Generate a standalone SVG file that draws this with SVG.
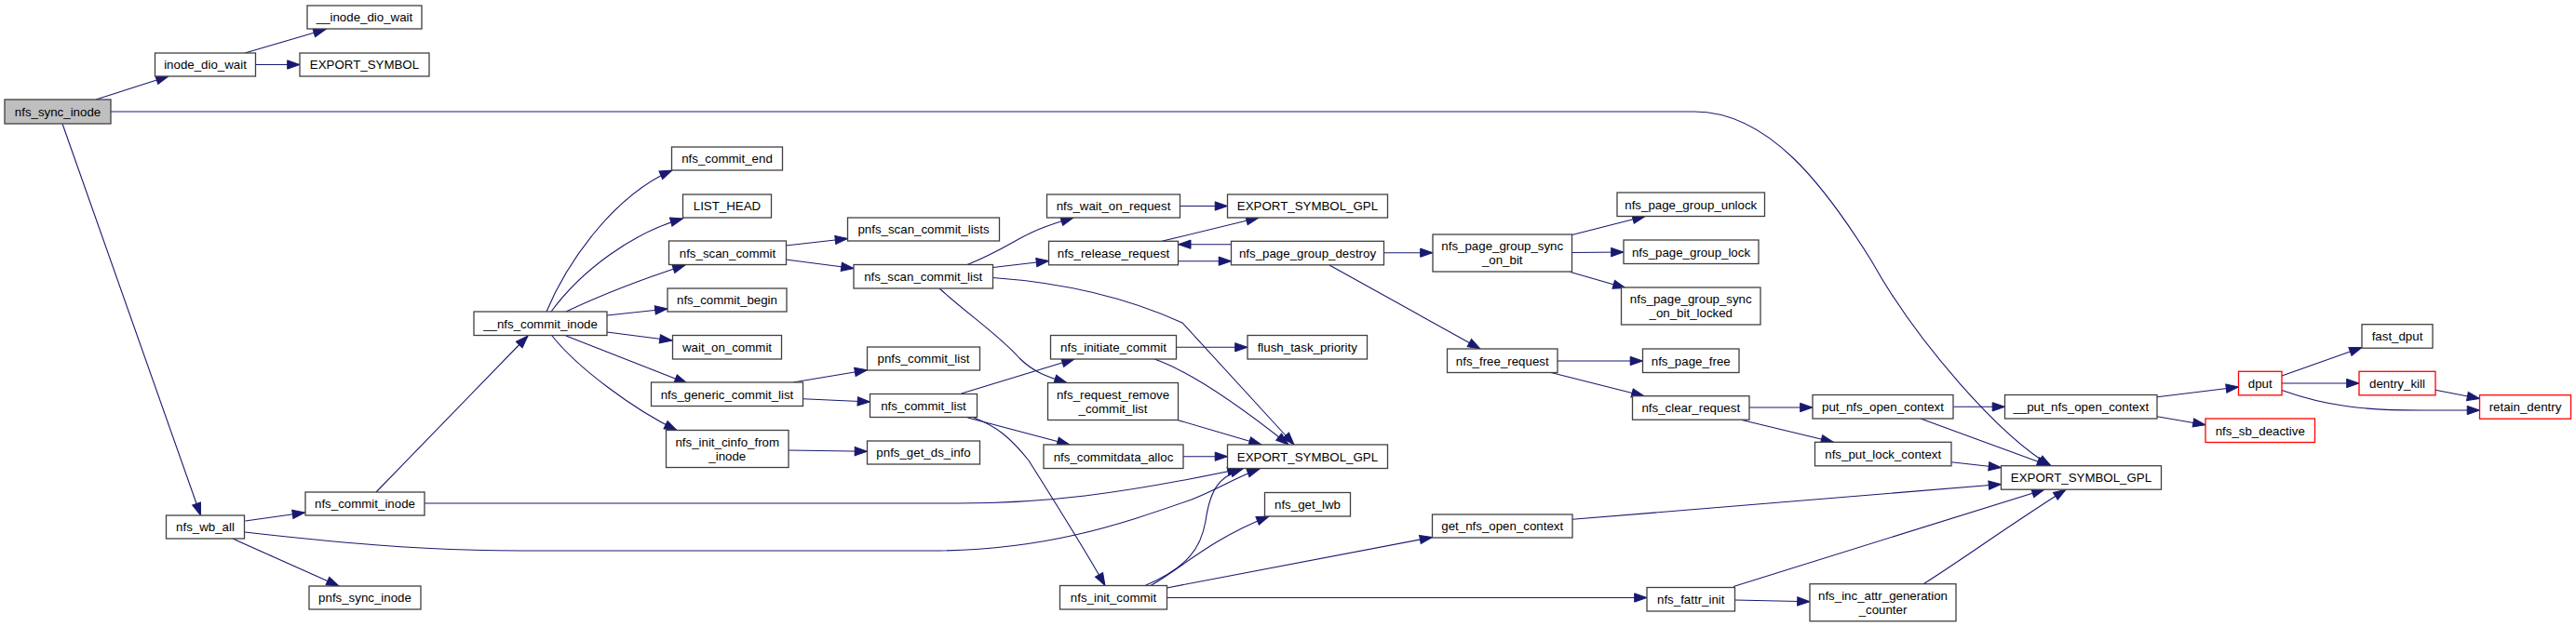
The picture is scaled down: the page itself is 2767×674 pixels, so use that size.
<svg xmlns="http://www.w3.org/2000/svg" width="2767" height="674" viewBox="0 0 2767 674">
<style>
.node rect{fill:#ffffff;stroke:#404040;stroke-width:1.3}
.node.root rect{fill:#bfbfbf}
.node.red rect{stroke:#ff0000}
.node text{font-family:"Liberation Sans",Arial,sans-serif;font-size:13.3px;text-anchor:middle;fill:#000000}
#edges path{fill:none;stroke:#191970;stroke-width:1.1;marker-end:url(#arr)}
</style>
<defs>
<marker id="arr" markerUnits="userSpaceOnUse" markerWidth="15" markerHeight="11" viewBox="0 0 15 11" refX="13.8" refY="5.15" orient="auto" overflow="visible">
<path d="M0.5,0.5 L13.8,5.15 L0.5,9.8 z" fill="#191970" stroke="#191970" stroke-width="1"/>
</marker>
</defs>
<rect x="0" y="0" width="2767" height="674" fill="#ffffff"/>
<g id="edges">
<path d="M103,107 L181,82"/>
<path d="M263,57 L350,31.5"/>
<path d="M274.5,69.5 L322,69.5"/>
<path d="M67,133 L215.5,554"/>
<path d="M119,120 L1820,120 C1900,120 1960,200 2010,280 C2060,370 2150,470 2203,500.7"/>
<path d="M263.4,560 L327.5,551"/>
<path d="M263,572 C350,582 450,592 560,592 L1000,592 C1120,592 1200,565 1280,537 C1310,525 1330,512 1353,504"/>
<path d="M250,579 L364,630"/>
<path d="M404,529 L567,361"/>
<path d="M456,541 L1030,541 C1120,541 1200,532 1332,504"/>
<path d="M587,335 C610,280 660,210 722,183"/>
<path d="M592,335 C625,290 680,250 733.5,235"/>
<path d="M608,335 C650,315 690,300 736,285"/>
<path d="M652,339 L717,332"/>
<path d="M652,357 L722,366"/>
<path d="M608,361 L738,412"/>
<path d="M593,361 C620,395 680,440 727,462.5"/>
<path d="M844,264 L910.5,256.5"/>
<path d="M844,279 L917,288.5"/>
<path d="M1039,284.5 C1075,270 1090,258 1108,250 C1125,242 1140,238 1153,234"/>
<path d="M1066.5,287.5 L1126.5,280.5"/>
<path d="M1009,310 C1040,338 1075,362 1095,385 C1110,400 1125,405 1146,411.5"/>
<path d="M1066.5,298.5 C1130,303 1200,315 1270,347 L1390,478"/>
<path d="M1267.5,221.5 L1318.5,221.5"/>
<path d="M1248,259.3 L1352,234"/>
<path d="M1265.7,280.7 L1322.5,280.7"/>
<path d="M1322.5,262.7 L1265.7,262.7"/>
<path d="M1486,271.7 L1539,271.7"/>
<path d="M1428,285 L1590,375"/>
<path d="M1688.5,252.5 L1767,232.5"/>
<path d="M1688.5,271.5 L1744,271"/>
<path d="M1687,292.5 L1746,309.5"/>
<path d="M1673,388 L1764.5,388"/>
<path d="M1666,400.5 L1766,425.7"/>
<path d="M1879,438 L1947,438"/>
<path d="M1871,451.5 L1969.5,475.3"/>
<path d="M2098.3,437.3 L2153.5,437.3"/>
<path d="M2063,450 L2201.5,500.7"/>
<path d="M2096,496.7 L2149.5,502.7"/>
<path d="M2317,426.7 L2404.5,416"/>
<path d="M2317,447.7 L2369,456.7"/>
<path d="M2451,404 L2537,373.5"/>
<path d="M2451,412 L2534,412"/>
<path d="M2451,419.5 C2500,437 2540,441 2600,441 L2663.5,441"/>
<path d="M2616,419.3 L2663.5,428.5"/>
<path d="M852,411 L931.5,397.7"/>
<path d="M862.6,428.7 L934.5,432"/>
<path d="M847,484 L931.5,485.3"/>
<path d="M1032.7,423 L1154,386"/>
<path d="M1039.5,449 L1149,478"/>
<path d="M1046,449 C1070,458 1085,470 1105,495 C1130,535 1165,590 1187,629.5"/>
<path d="M1263.3,373.3 L1340,373.3"/>
<path d="M1240,386 C1280,400 1330,435 1384,478"/>
<path d="M1265.5,451.7 L1355,478"/>
<path d="M1270.7,490.7 L1318.5,490.7"/>
<path d="M1230,629.5 C1275,610 1290,590 1295,560 C1300,525 1310,512 1335,504"/>
<path d="M1236,629.5 C1270,610 1300,580 1363,555"/>
<path d="M1253.3,632 L1538.5,577.5"/>
<path d="M1253.3,642.5 L1769,642.5"/>
<path d="M1689,558.3 L2149.5,520.5"/>
<path d="M1862,630.5 L2196,526.2"/>
<path d="M1863.5,645 L1944,646.7"/>
<path d="M2066,627.7 C2110,600 2150,570 2219,526.2"/>
</g>
<g id="n_nfs_sync_inode" class="node root"><rect x="5" y="107" width="114" height="26"/><text x="62" y="124.7">nfs_sync_inode</text></g>
<g id="n_inode_dio_wait" class="node"><rect x="166.5" y="57" width="108" height="25"/><text x="220.5" y="74.2">inode_dio_wait</text></g>
<g id="n___inode_dio_wait" class="node"><rect x="330" y="6" width="123" height="25"/><text x="391.5" y="23.2">__inode_dio_wait</text></g>
<g id="n_EXPORT_SYMBOL" class="node"><rect x="322" y="57" width="139" height="25"/><text x="391.5" y="74.2">EXPORT_SYMBOL</text></g>
<g id="n_nfs_wb_all" class="node"><rect x="178.5" y="554" width="84" height="25"/><text x="220.5" y="571.2">nfs_wb_all</text></g>
<g id="n_nfs_commit_inode" class="node"><rect x="328" y="529" width="128" height="25"/><text x="392" y="546.2">nfs_commit_inode</text></g>
<g id="n_pnfs_sync_inode" class="node"><rect x="332" y="630" width="120" height="25"/><text x="392" y="647.2">pnfs_sync_inode</text></g>
<g id="n___nfs_commit_inode" class="node"><rect x="509" y="335" width="143" height="25.5"/><text x="580.5" y="352.5">__nfs_commit_inode</text></g>
<g id="n_nfs_commit_end" class="node"><rect x="721.5" y="158" width="119" height="25"/><text x="781" y="175.2">nfs_commit_end</text></g>
<g id="n_LIST_HEAD" class="node"><rect x="733.5" y="209" width="95" height="25"/><text x="781" y="226.2">LIST_HEAD</text></g>
<g id="n_nfs_scan_commit" class="node"><rect x="718.5" y="259" width="126" height="25.5"/><text x="781.5" y="276.5">nfs_scan_commit</text></g>
<g id="n_nfs_commit_begin" class="node"><rect x="717" y="310" width="128" height="25"/><text x="781" y="327.2">nfs_commit_begin</text></g>
<g id="n_wait_on_commit" class="node"><rect x="722.5" y="360.5" width="117" height="25.5"/><text x="781" y="378">wait_on_commit</text></g>
<g id="n_nfs_generic_commit_list" class="node"><rect x="699.5" y="411" width="163" height="25.5"/><text x="781" y="428.5">nfs_generic_commit_list</text></g>
<g id="n_nfs_init_cinfo_from_inode" class="node"><rect x="715.5" y="462.5" width="131.5" height="40"/><text x="781.25" y="479.7">nfs_init_cinfo_from</text><text x="781.25" y="494.5">_inode</text></g>
<g id="n_pnfs_scan_commit_lists" class="node"><rect x="910.5" y="234" width="163" height="25"/><text x="992" y="251.2">pnfs_scan_commit_lists</text></g>
<g id="n_nfs_scan_commit_list" class="node"><rect x="917" y="284.5" width="149.5" height="25.5"/><text x="991.75" y="302">nfs_scan_commit_list</text></g>
<g id="n_pnfs_commit_list" class="node"><rect x="931.5" y="373" width="121" height="25"/><text x="992" y="390.2">pnfs_commit_list</text></g>
<g id="n_nfs_commit_list" class="node"><rect x="934.5" y="423.5" width="115" height="25"/><text x="992" y="440.7">nfs_commit_list</text></g>
<g id="n_pnfs_get_ds_info" class="node"><rect x="931.5" y="474" width="121" height="25"/><text x="992" y="491.2">pnfs_get_ds_info</text></g>
<g id="n_nfs_wait_on_request" class="node"><rect x="1124.5" y="209" width="143" height="25"/><text x="1196" y="226.2">nfs_wait_on_request</text></g>
<g id="n_nfs_release_request" class="node"><rect x="1126.5" y="259.3" width="139" height="25.5"/><text x="1196" y="276.7">nfs_release_request</text></g>
<g id="n_nfs_initiate_commit" class="node"><rect x="1128.5" y="360.5" width="135" height="25.5"/><text x="1196" y="378">nfs_initiate_commit</text></g>
<g id="n_nfs_request_remove_commit_list" class="node"><rect x="1125.5" y="411.5" width="140" height="40"/><text x="1195.5" y="428.5">nfs_request_remove</text><text x="1195.5" y="443.5">_commit_list</text></g>
<g id="n_nfs_commitdata_alloc" class="node"><rect x="1121" y="478" width="150" height="25.5"/><text x="1196" y="495.5">nfs_commitdata_alloc</text></g>
<g id="n_nfs_init_commit" class="node"><rect x="1138.5" y="629.5" width="115" height="25.5"/><text x="1196" y="647">nfs_init_commit</text></g>
<g id="n_EXPORT_SYMBOL_GPL_1" class="node"><rect x="1318.5" y="209" width="172" height="25"/><text x="1404.5" y="226.2">EXPORT_SYMBOL_GPL</text></g>
<g id="n_nfs_page_group_destroy" class="node"><rect x="1322.5" y="259.3" width="164" height="25.5"/><text x="1404.5" y="276.7">nfs_page_group_destroy</text></g>
<g id="n_flush_task_priority" class="node"><rect x="1340" y="360.5" width="128.5" height="25.5"/><text x="1404.25" y="378">flush_task_priority</text></g>
<g id="n_EXPORT_SYMBOL_GPL_2" class="node"><rect x="1318.5" y="478" width="172" height="25.5"/><text x="1404.5" y="495.5">EXPORT_SYMBOL_GPL</text></g>
<g id="n_nfs_get_lwb" class="node"><rect x="1358.5" y="529.5" width="92" height="25.5"/><text x="1404.5" y="547">nfs_get_lwb</text></g>
<g id="n_nfs_page_group_sync_on_bit" class="node"><rect x="1539" y="252" width="149.5" height="40"/><text x="1613.75" y="269">nfs_page_group_sync</text><text x="1613.75" y="284">_on_bit</text></g>
<g id="n_nfs_free_request" class="node"><rect x="1554.5" y="375" width="118.5" height="25.5"/><text x="1613.75" y="392.5">nfs_free_request</text></g>
<g id="n_get_nfs_open_context" class="node"><rect x="1538.5" y="553" width="150.5" height="25"/><text x="1613.75" y="570.2">get_nfs_open_context</text></g>
<g id="n_nfs_page_group_unlock" class="node"><rect x="1737" y="207" width="158.5" height="25.5"/><text x="1816.25" y="224.5">nfs_page_group_unlock</text></g>
<g id="n_nfs_page_group_lock" class="node"><rect x="1744" y="258" width="145" height="25.5"/><text x="1816.5" y="275.5">nfs_page_group_lock</text></g>
<g id="n_nfs_page_group_sync_on_bit_locked" class="node"><rect x="1741.5" y="309" width="149.5" height="40"/><text x="1816.25" y="326">nfs_page_group_sync</text><text x="1816.25" y="341">_on_bit_locked</text></g>
<g id="n_nfs_page_free" class="node"><rect x="1764.5" y="375" width="103.5" height="25.5"/><text x="1816.25" y="392.5">nfs_page_free</text></g>
<g id="n_nfs_clear_request" class="node"><rect x="1753.5" y="425.7" width="125.5" height="25.5"/><text x="1816.25" y="443.2">nfs_clear_request</text></g>
<g id="n_nfs_fattr_init" class="node"><rect x="1769" y="631.5" width="94.5" height="25.5"/><text x="1816.25" y="649">nfs_fattr_init</text></g>
<g id="n_put_nfs_open_context" class="node"><rect x="1947" y="424.5" width="151" height="25.5"/><text x="2022.5" y="442">put_nfs_open_context</text></g>
<g id="n_nfs_put_lock_context" class="node"><rect x="1949.5" y="475.3" width="146.5" height="25.5"/><text x="2022.75" y="492.8">nfs_put_lock_context</text></g>
<g id="n_nfs_inc_attr_generation_counter" class="node"><rect x="1944" y="627.7" width="157" height="40"/><text x="2022.5" y="644.7">nfs_inc_attr_generation</text><text x="2022.5" y="659.7">_counter</text></g>
<g id="n___put_nfs_open_context" class="node"><rect x="2153.5" y="424.5" width="163.5" height="25.5"/><text x="2235.25" y="442">__put_nfs_open_context</text></g>
<g id="n_EXPORT_SYMBOL_GPL_3" class="node"><rect x="2149.5" y="500.7" width="172" height="25.5"/><text x="2235.5" y="518.2">EXPORT_SYMBOL_GPL</text></g>
<g id="n_dput" class="node red"><rect x="2404.5" y="399.3" width="46.5" height="25.5"/><text x="2427.75" y="416.8">dput</text></g>
<g id="n_nfs_sb_deactive" class="node red"><rect x="2369" y="450" width="117.5" height="25.5"/><text x="2427.75" y="467.5">nfs_sb_deactive</text></g>
<g id="n_fast_dput" class="node"><rect x="2537" y="348.7" width="76" height="25.5"/><text x="2575" y="366.2">fast_dput</text></g>
<g id="n_dentry_kill" class="node red"><rect x="2534" y="399.3" width="82" height="25.5"/><text x="2575" y="416.8">dentry_kill</text></g>
<g id="n_retain_dentry" class="node red"><rect x="2663.5" y="424.7" width="98" height="25.5"/><text x="2712.5" y="442.2">retain_dentry</text></g>
</svg>
